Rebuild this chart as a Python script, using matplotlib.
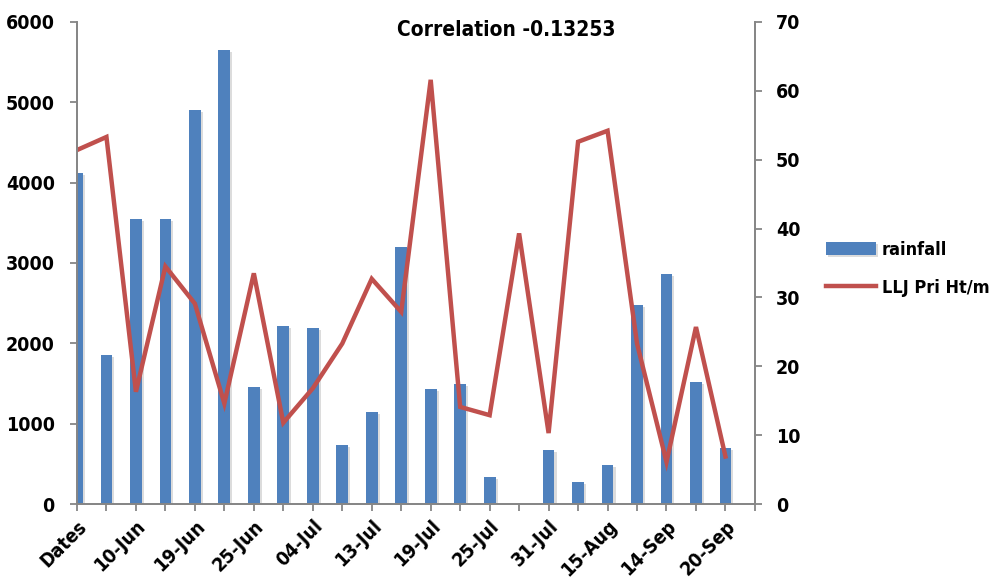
import numpy as np
import matplotlib
matplotlib.use('Agg')
import matplotlib.pyplot as plt
import matplotlib.patheffects as pe

plt.rcParams['font.family'] = ['DejaVu Sans']
plt.rcParams['font.stretch'] = 'condensed'
plt.rcParams['font.weight'] = 'bold'

# categories (only every other one is labelled in the original)
dates = ['Dates', '07-Jun', '10-Jun', '15-Jun', '19-Jun', '22-Jun', '25-Jun', '28-Jun',
         '04-Jul', '08-Jul', '13-Jul', '16-Jul', '19-Jul', '22-Jul', '25-Jul', '28-Jul',
         '31-Jul', '10-Aug', '15-Aug', '01-Sep', '14-Sep', '17-Sep', '20-Sep']

rainfall = [4125, 1860, 3545, 3545, 4905, 5650, 1452, 2216, 2187, 738, 1141, 3195,
            1435, 1494, 340, 0, 676, 270, 481, 2473, 2863, 1519, 697]
llj_ht = [51.4, 53.3, 16.3, 34.5, 29.1, 14.6, 33.5, 11.8, 16.8, 23.3, 32.7, 27.9,
          61.6, 14.1, 12.9, 39.3, 10.3, 52.6, 54.2, 23.3, 6.1, 25.7, 6.9]

title = 'Correlation -0.13253'

fts = 14
grey = '#868686'
x = np.arange(len(dates))

fig = plt.figure(figsize=(9.97, 5.78), dpi=100)
ax = fig.add_axes([0.0772, 0.128, 0.680, 0.834])
ax2 = ax.twinx()

bars = ax.bar(x, rainfall, width=0.4, color='#4F81BD', label='rainfall', zorder=2)
for b in bars:
    b.set_path_effects([pe.SimplePatchShadow(offset=(1.5, -1.5), shadow_rgbFace='#bbbbbb', alpha=0.5),
                        pe.Normal()])
line, = ax2.plot(x, llj_ht, color='#C0504D', lw=3.2, label='LLJ Pri Ht/m', solid_joinstyle='miter')

ax.set_xlim(0, len(dates))
ax.set_ylim(0, 6000)
ax2.set_ylim(0, 70)
ax.set_yticks(np.arange(0, 6001, 1000))
ax2.set_yticks(np.arange(0, 71, 10))

ax.set_xticks(np.arange(0, len(dates) + 1))
lab = [d if i % 2 == 0 else '' for i, d in enumerate(dates)] + ['']
ax.set_xticklabels(lab, rotation=45, ha='right', rotation_mode='anchor', fontsize=fts)

for a in (ax, ax2):
    a.spines['top'].set_visible(False)
    for s in ('left', 'right', 'bottom'):
        a.spines[s].set_color(grey)
        a.spines[s].set_linewidth(1.3)
    a.tick_params(colors=grey, labelcolor='black', length=5, width=1.3, labelsize=fts)
ax.tick_params(axis='x', pad=4)
ax.tick_params(axis='y', pad=11)
ax2.tick_params(axis='y', pad=10)

fig.text(0.5075, 0.948, title, ha='center', va='center', fontsize=fts + 1, fontweight='bold')

fig.legend([bars, line], ['rainfall', 'LLJ Pri Ht/m'], loc='center left',
           bbox_to_anchor=(0.812, 0.535), frameon=False, fontsize=13,
           handlelength=2.8, handletextpad=0.3, labelspacing=1.1)

fig.savefig('out.png', dpi=100)
plt.close()
